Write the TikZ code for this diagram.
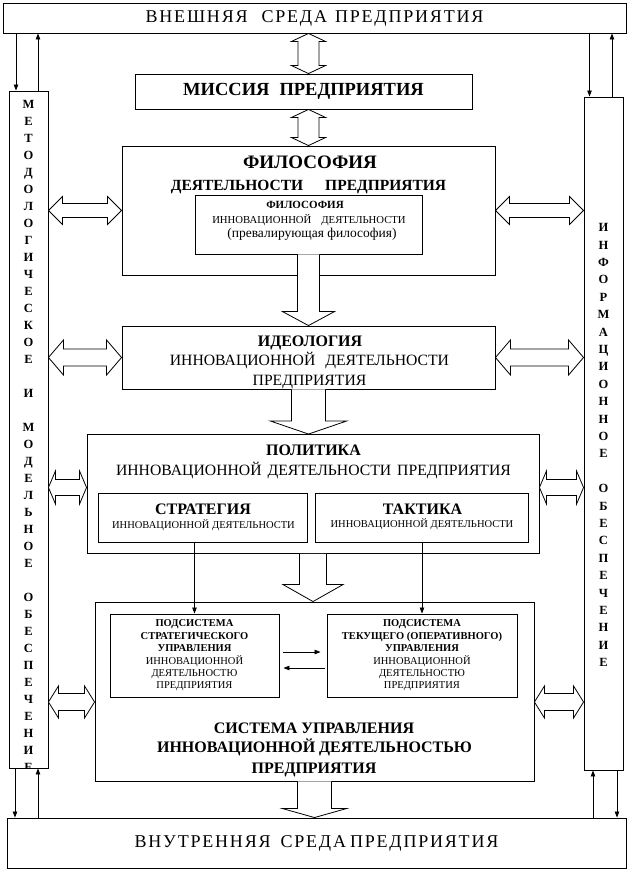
\documentclass[tikz,border=0pt]{standalone}
\usepackage{fontspec}
\setmainfont{Liberation Serif}
\newfontfamily\spacedfont[LetterSpace=10]{Liberation Serif}
\usetikzlibrary{arrows.meta, positioning, calc}

\newcommand{\vdblarrow}[5]{%
  \draw[blockarrow] let \p1=(#1), \p2=(#2) in
    (\x1,\y1) -- (\x1+#4,\y1-#5) -- (\x1+#3,\y1-#5) -- (\x1+#3,\y2+#5)
    -- (\x1+#4,\y2+#5) -- (\x1,\y2) -- (\x1-#4,\y2+#5) -- (\x1-#3,\y2+#5)
    -- (\x1-#3,\y1-#5) -- (\x1-#4,\y1-#5) -- cycle;}
\newcommand{\hdblarrow}[5]{%
  \draw[blockarrow] let \p1=(#1), \p2=(#2) in
    (\x1,\y1) -- (\x1+#5,\y1+#4) -- (\x1+#5,\y1+#3) -- (\x2-#5,\y1+#3)
    -- (\x2-#5,\y1+#4) -- (\x2,\y1) -- (\x2-#5,\y1-#4) -- (\x2-#5,\y1-#3)
    -- (\x1+#5,\y1-#3) -- (\x1+#5,\y1-#4) -- cycle;}
\newcommand{\vblkarrow}[5]{%
  \draw[blockarrow] let \p1=(#1), \p2=(#2) in
    (\x1-#3,\y1) -- (\x1-#3,\y2+#5) -- (\x1-#4,\y2+#5) -- (\x1,\y2)
    -- (\x1+#4,\y2+#5) -- (\x1+#3,\y2+#5) -- (\x1+#3,\y1);}

\begin{document}
\begin{tikzpicture}[
        x=1pt, y=-1pt,
        box/.style={rectangle, draw=black, line width=0.9pt, inner sep=0pt, align=center},
        lbl/.style={inner sep=0pt, anchor=base},
        bighead/.style={font=\bfseries\fontsize{16}{19}\selectfont},
        bigline/.style={font=\fontsize{15.7}{19}\selectfont},
        smallline/.style={font=\fontsize{10.5}{13}\selectfont},
        subbox/.style={box, font=\fontsize{10.5}{12.4}\selectfont},
        coltext/.style={inner sep=0pt, align=center, anchor=north},
        blockarrow/.style={draw=black, line width=0.8pt, fill=white, line join=miter},
        thinarrow/.style={line width=0.8pt, -{Triangle[length=6pt, width=4.5pt]}}
        ]
        \useasboundingbox (0,0) rectangle (630,879);

        \node[box, minimum width=623pt, minimum height=30pt] (extenv) at (314.5,18)
            {\spacedfont\fontsize{18}{20}\selectfont ВНЕШНЯЯ\hspace{14pt}СРЕДА\hspace{8pt}ПРЕДПРИЯТИЯ};
        \node[box, minimum width=337pt, minimum height=35pt, font=\bfseries\fontsize{18.5}{20}\selectfont] (mission)
            at (303.5,91.5) {МИССИЯ\hspace{10pt}ПРЕДПРИЯТИЯ};

        \node[box, minimum width=373pt, minimum height=129pt] (philo) at (308.5,210.5) {};
        \node[box, minimum width=227pt, minimum height=59pt] (philoinn) at (308.5,224.5) {};
        \node[lbl, font=\bfseries\fontsize{19}{22}\selectfont] (philohead) at (310,168) {ФИЛОСОФИЯ};
        \node[lbl, font=\bfseries\fontsize{15.5}{18}\selectfont] (philosub) at (308.5,190) {ДЕЯТЕЛЬНОСТИ\hspace{22pt}ПРЕДПРИЯТИЯ};
        \node[lbl, font=\bfseries\fontsize{11}{13}\selectfont] (innhead) at (305,208) {ФИЛОСОФИЯ};
        \node[lbl, font=\fontsize{10.7}{13}\selectfont] (innsub) at (309,223) {ИННОВАЦИОННОЙ\hspace{10pt}ДЕЯТЕЛЬНОСТИ};
        \node[lbl, font=\fontsize{13.5}{16}\selectfont] (innnote) at (312,237) {(превалирующая философия)};

        \node[box, minimum width=373pt, minimum height=63pt] (ideo) at (308.5,357.5) {};
        \node[lbl, bighead] (ideohead) at (310,346) {ИДЕОЛОГИЯ};
        \node[lbl, bigline] (ideosub) at (309.5,365) {ИННОВАЦИОННОЙ\hspace{10pt}ДЕЯТЕЛЬНОСТИ};
        \node[lbl, bigline] (ideoent) at (309.5,385) {ПРЕДПРИЯТИЯ};

        \node[box, minimum width=452pt, minimum height=119pt] (policy) at (313,494) {};
        \node[lbl, bighead] (polhead) at (313.5,455) {ПОЛИТИКА};
        \node[lbl, bigline] (polsub) at (313.5,475) {ИННОВАЦИОННОЙ\hspace{6pt}ДЕЯТЕЛЬНОСТИ\hspace{6pt}ПРЕДПРИЯТИЯ};
        \node[box, minimum width=209pt, minimum height=49pt] (strat) at (202.5,517.5) {};
        \node[box, minimum width=213pt, minimum height=49pt] (tact) at (421.5,517.5) {};
        \node[lbl, bighead] (strathead) at (203,514) {СТРАТЕГИЯ};
        \node[lbl, smallline] (stratsub) at (203.5,528) {ИННОВАЦИОННОЙ ДЕЯТЕЛЬНОСТИ};
        \node[lbl, bighead] (tacthead) at (422.5,514) {ТАКТИКА};
        \node[lbl, smallline] (tactsub) at (422,527) {ИННОВАЦИОННОЙ ДЕЯТЕЛЬНОСТИ};

        \node[box, minimum width=439pt, minimum height=179pt] (ctrl) at (314.5,691.5) {};
        \node[subbox, minimum width=169pt, minimum height=83pt] (substrat) at (194.5,655.5)
            {\textbf{ПОДСИСТЕМА}\\\textbf{СТРАТЕГИЧЕСКОГО}\\\textbf{УПРАВЛЕНИЯ}\\ИННОВАЦИОННОЙ\\ДЕЯТЕЛЬНОСТЮ\\ПРЕДПРИЯТИЯ};
        \node[subbox, minimum width=190pt, minimum height=83pt] (subtact) at (422,655.5)
            {\textbf{ПОДСИСТЕМА}\\\textbf{ТЕКУЩЕГО (ОПЕРАТИВНОГО)}\\\textbf{УПРАВЛЕНИЯ}\\ИННОВАЦИОННОЙ\\ДЕЯТЕЛЬНОСТЮ\\ПРЕДПРИЯТИЯ};
        \node[lbl, bighead] (ctrlhead) at (314,733) {СИСТЕМА УПРАВЛЕНИЯ};
        \node[lbl, bighead] (ctrlsub) at (314.5,752) {ИННОВАЦИОННОЙ ДЕЯТЕЛЬНОСТЬЮ};
        \node[lbl, bighead] (ctrlent) at (314,773) {ПРЕДПРИЯТИЯ};

        \node[box, minimum width=619pt, minimum height=50pt] (intenv) at (316.5,843)
            {\spacedfont\fontsize{18}{20}\selectfont ВНУТРЕННЯЯ\hspace{10pt}СРЕДА\hspace{4pt}ПРЕДПРИЯТИЯ};

        \node[box, minimum width=39pt, minimum height=677pt] (methcol) at (28.5,429.5) {};
        \node[box, minimum width=39pt, minimum height=673pt] (infocol) at (603.5,433.5) {};
        \begin{scope}
            \clip (methcol.north west) rectangle (methcol.south east);
            \node[coltext, font=\bfseries\fontsize{12.5}{17}\selectfont] (methtext) at ($(methcol.north)+(0,9.8)$)
                {М\\Е\\Т\\О\\Д\\О\\Л\\О\\Г\\И\\Ч\\Е\\С\\К\\О\\Е\\\mbox{}\\И\\\mbox{}\\М\\О\\Д\\Е\\Л\\Ь\\Н\\О\\Е\\\mbox{}\\О\\Б\\Е\\С\\П\\Е\\Ч\\Е\\Н\\И\\Е};
        \end{scope}
        \node[coltext, font=\bfseries\fontsize{12.5}{17.4}\selectfont] (infotext) at ($(infocol.north)+(0,126.8)$)
            {И\\Н\\Ф\\О\\Р\\М\\А\\Ц\\И\\О\\Н\\Н\\О\\Е\\\mbox{}\\О\\Б\\Е\\С\\П\\Е\\Ч\\Е\\Н\\И\\Е};

        % block arrows
        \vdblarrow{philo.north |- extenv.south}{philo.north |- mission.north}{10.5pt}{17pt}{8pt}
        \vdblarrow{philo.north |- mission.south}{philo.north}{10.5pt}{17pt}{8pt}
        \vblkarrow{philoinn.south}{philoinn.south |- ideo.north}{11pt}{26pt}{14pt}
        \vblkarrow{ideo.south}{ideo.south |- policy.north}{17pt}{38pt}{13pt}
        \vblkarrow{policy.south}{policy.south |- ctrl.north}{13.5pt}{30pt}{17pt}
        \vblkarrow{ctrl.south}{ctrl.south |- intenv.north}{17pt}{32pt}{9pt}

        \hdblarrow{methcol.east |- philo.west}{philo.west}{7pt}{14pt}{14pt}
        \hdblarrow{methcol.east |- ideo.west}{ideo.west}{8.5pt}{17.5pt}{15pt}
        \hdblarrow{$(methcol.east |- policy.west)+(0,-6.5)$}{policy.west}{8pt}{16.5pt}{7pt}
        \hdblarrow{$(methcol.east |- ctrl.west)+(0,10.5)$}{ctrl.west}{8.5pt}{16pt}{10pt}
        \hdblarrow{philo.east}{infocol.west |- philo.east}{7pt}{14pt}{14pt}
        \hdblarrow{ideo.east}{infocol.west |- ideo.east}{8.5pt}{17.5pt}{15pt}
        \hdblarrow{$(policy.east)+(0,-6.5)$}{infocol.west |- policy.east}{8pt}{16.5pt}{7pt}
        \hdblarrow{$(ctrl.east)+(0,10.5)$}{infocol.west |- ctrl.east}{8.5pt}{16pt}{10pt}

        % thin arrows
        \coordinate (mtopdown) at ($(methcol.north)+(-12.5,0)$);
        \coordinate (mtopup) at ($(methcol.north)+(9.5,0)$);
        \coordinate (mbotdown) at ($(methcol.south)+(-13.5,0)$);
        \coordinate (mbotup) at ($(methcol.south)+(9.5,0)$);
        \coordinate (itopdown) at ($(infocol.north)+(-14,0)$);
        \coordinate (itopup) at ($(infocol.north)+(8.5,0)$);
        \coordinate (ibotup) at ($(infocol.south)+(-10.5,0)$);
        \coordinate (ibotdown) at ($(infocol.south)+(13.5,0)$);
        \draw[thinarrow] (mtopdown |- extenv.south) -- (mtopdown);
        \draw[thinarrow] (mtopup) -- (mtopup |- extenv.south);
        \draw[thinarrow] (mbotdown) -- (mbotdown |- intenv.north);
        \draw[thinarrow] (mbotup |- intenv.north) -- (mbotup);
        \draw[thinarrow] (itopdown |- extenv.south) -- (itopdown);
        \draw[thinarrow] (itopup) -- (itopup |- extenv.south);
        \draw[thinarrow] (ibotup |- intenv.north) -- (ibotup);
        \draw[thinarrow] (ibotdown) -- (ibotdown |- intenv.north);

        \draw[thinarrow] (substrat.north |- strat.south) -- (substrat.north);
        \draw[thinarrow] (subtact.north |- tact.south) -- (subtact.north);
        \draw[thinarrow] ($(substrat.east)+(4,-3.5)$) -- ($(subtact.west)+(-6,-3.5)$);
        \draw[thinarrow] ($(subtact.west)+(-2,12.5)$) -- ($(substrat.east)+(4,12.5)$);
    \end{tikzpicture}
\end{document}
